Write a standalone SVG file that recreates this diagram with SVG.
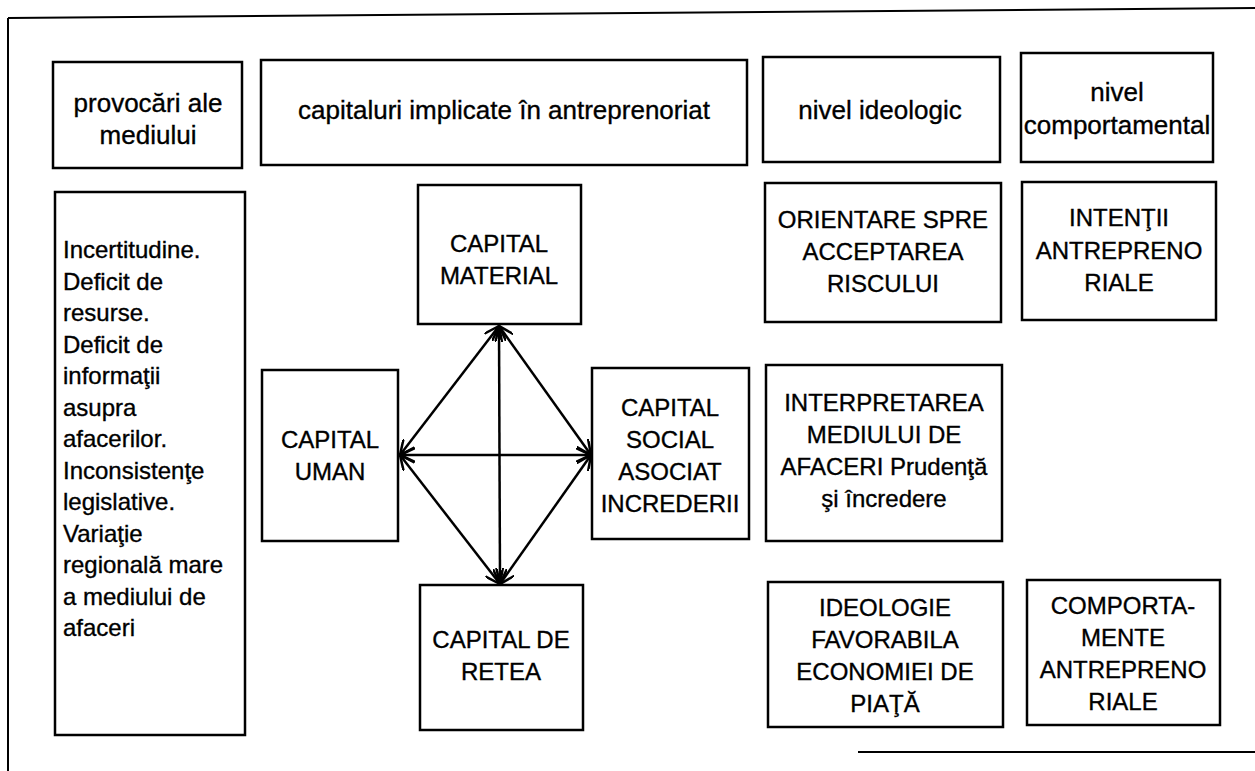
<svg xmlns="http://www.w3.org/2000/svg" width="1255" height="771" viewBox="0 0 1255 771">
<defs>
<style>
.box{fill:#fff;stroke:#000;stroke-width:2.5}
.frame{fill:none;stroke:#000;stroke-width:2}
.h,.t,.l{font-family:"Liberation Sans",Arial,sans-serif;fill:#000;stroke:#000;stroke-width:0.35}
.h{font-size:26px;text-anchor:middle}
.t{font-size:24px;text-anchor:middle}
.l{font-size:24px}
.c{stroke:#000;stroke-width:2.5;fill:none;marker-start:url(#ah);marker-end:url(#ah)}
</style>
<marker id="ah" viewBox="0 0 16 14" refX="15" refY="7" markerWidth="16" markerHeight="14" markerUnits="userSpaceOnUse" orient="auto-start-reverse">
<path d="M0,0 L15,7 L0,14" fill="none" stroke="#000" stroke-width="2.5"/>
</marker>
</defs>
<rect width="1255" height="771" fill="#fff"/>
<g id="frame">
<path class="frame" d="M8,18 L1255,8"/>
<path class="frame" d="M8,18 L8,771"/>
<path class="frame" d="M858,752 L1255,752"/>
</g>
<g id="n-provocari"><rect class="box" x="53" y="62" width="189" height="106"/><text class="h" x="148" y="112">provocări ale</text><text class="h" x="148" y="144">mediului</text></g>
<g id="n-capitaluri"><rect class="box" x="261" y="60" width="486" height="105"/><text class="h" x="504" y="119">capitaluri implicate în antreprenoriat</text></g>
<g id="n-ideologic"><rect class="box" x="763" y="57" width="237" height="105"/><text class="h" x="880" y="119">nivel ideologic</text></g>
<g id="n-comportamental"><rect class="box" x="1021" y="53" width="192" height="109"/><text class="h" x="1117" y="101">nivel</text><text class="h" x="1117" y="134">comportamental</text></g>
<g id="n-provocari-list"><rect class="box" x="55" y="192" width="190" height="543"/>
<text class="l" x="63" y="258">Incertitudine.</text>
<text class="l" x="63" y="289.5">Deficit de</text>
<text class="l" x="63" y="321">resurse.</text>
<text class="l" x="63" y="352.5">Deficit de</text>
<text class="l" x="63" y="384">informaţii</text>
<text class="l" x="63" y="415.5">asupra</text>
<text class="l" x="63" y="447">afacerilor.</text>
<text class="l" x="63" y="478.5">Inconsistenţe</text>
<text class="l" x="63" y="510">legislative.</text>
<text class="l" x="63" y="541.5">Variaţie</text>
<text class="l" x="63" y="573">regională mare</text>
<text class="l" x="63" y="604.5">a mediului de</text>
<text class="l" x="63" y="636">afaceri</text>
</g>
<g id="n-material"><rect class="box" x="418" y="185" width="163" height="139"/><text class="t" x="499" y="252">CAPITAL</text><text class="t" x="499" y="284">MATERIAL</text></g>
<g id="n-uman"><rect class="box" x="262" y="370" width="136" height="171"/><text class="t" x="330" y="448">CAPITAL</text><text class="t" x="330" y="480">UMAN</text></g>
<g id="n-social"><rect class="box" x="592" y="368" width="157" height="171"/><text class="t" x="670" y="416">CAPITAL</text><text class="t" x="670" y="448">SOCIAL</text><text class="t" x="670" y="480">ASOCIAT</text><text class="t" x="670" y="512">INCREDERII</text></g>
<g id="n-retea"><rect class="box" x="420" y="585" width="163" height="145"/><text class="t" x="501" y="648">CAPITAL DE</text><text class="t" x="501" y="680">RETEA</text></g>
<g id="n-orientare"><rect class="box" x="765" y="183" width="236" height="139"/><text class="t" x="883" y="228">ORIENTARE SPRE</text><text class="t" x="883" y="260">ACCEPTAREA</text><text class="t" x="883" y="292">RISCULUI</text></g>
<g id="n-intentii"><rect class="box" x="1022" y="182" width="194" height="138"/><text class="t" x="1119" y="226">INTENŢII</text><text class="t" x="1119" y="259">ANTREPRENO</text><text class="t" x="1119" y="291">RIALE</text></g>
<g id="n-interpretarea"><rect class="box" x="766" y="365" width="236" height="176"/><text class="t" x="884" y="411">INTERPRETAREA</text><text class="t" x="884" y="443">MEDIULUI DE</text><text class="t" x="884" y="475">AFACERI Prudenţă</text><text class="t" x="884" y="507">şi încredere</text></g>
<g id="n-ideologie"><rect class="box" x="768" y="582" width="235" height="145"/><text class="t" x="885" y="616">IDEOLOGIE</text><text class="t" x="885" y="648">FAVORABILA</text><text class="t" x="885" y="680">ECONOMIEI DE</text><text class="t" x="885" y="712">PIAŢĂ</text></g>
<g id="n-comportamente"><rect class="box" x="1027" y="580" width="193" height="145"/><text class="t" x="1123" y="614">COMPORTA-</text><text class="t" x="1123" y="646">MENTE</text><text class="t" x="1123" y="678">ANTREPRENO</text><text class="t" x="1123" y="710">RIALE</text></g>
<g id="connectors">
<line class="c" x1="499" y1="326" x2="400" y2="455"/>
<line class="c" x1="499" y1="326" x2="591" y2="455"/>
<line class="c" x1="400" y1="455" x2="500" y2="584"/>
<line class="c" x1="591" y1="455" x2="500" y2="584"/>
<line class="c" x1="400" y1="455" x2="591" y2="455"/>
<line class="c" x1="499" y1="326" x2="500" y2="584"/>
</g>
</svg>
